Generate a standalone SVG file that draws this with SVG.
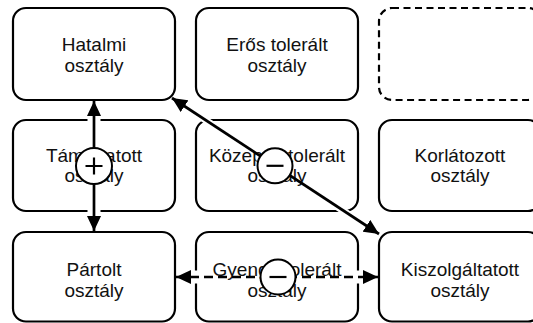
<svg xmlns="http://www.w3.org/2000/svg" width="533" height="323" viewBox="0 0 533 323">
<defs>
<style>
.box{fill:#fff;stroke:#000;stroke-width:2.2}
.ghost{fill:#fff;stroke:#000;stroke-width:2.2;stroke-dasharray:7 4.5}
.lbl{font-family:"Liberation Sans",Arial,sans-serif;font-size:19px;fill:#111;text-anchor:middle}
.halo{stroke:#fff;stroke-width:13;fill:none}
.halo-d{stroke:#fff;stroke-width:7;fill:none}
.edge{stroke:#000;stroke-width:2.7;fill:none;marker-start:url(#ah);marker-end:url(#ah)}
.dash{stroke-dasharray:9 5}
.sign{fill:#fff;stroke:#000;stroke-width:2}
.sym{stroke:#000;stroke-width:2.2;fill:none}
</style>
<marker id="ah" markerUnits="userSpaceOnUse" markerWidth="16" markerHeight="14" refX="15" refY="7" orient="auto-start-reverse" viewBox="0 0 16 14">
<path d="M0,0 L15,7 L0,14 z" fill="#000"/>
</marker>
</defs>
<rect width="533" height="323" fill="#fff"/>

<g id="hatalmi">
<rect class="box" x="13" y="8" width="162" height="92" rx="13"/>
<text class="lbl"><tspan x="94" y="51">Hatalmi</tspan><tspan x="94" y="71.5">osztály</tspan></text>
</g>
<g id="eros-tolerált">
<rect class="box" x="196" y="8" width="162" height="92" rx="13"/>
<text class="lbl"><tspan x="277" y="51">Erős tolerált</tspan><tspan x="277" y="71.5">osztály</tspan></text>
</g>
<g id="empty">
<rect class="ghost" x="379" y="8" width="162" height="92" rx="13"/>
</g>

<g id="tamogatott">
<rect class="box" x="13" y="120" width="162" height="91" rx="13"/>
<text class="lbl"><tspan x="94" y="161.5">Támogatott</tspan><tspan x="94" y="182">osztály</tspan></text>
</g>
<g id="kozepes-tolerált">
<rect class="box" x="196" y="120" width="162" height="91" rx="13"/>
<text class="lbl"><tspan x="277" y="161.5">Közepes tolerált</tspan><tspan x="277" y="182">osztály</tspan></text>
</g>
<g id="korlatozott">
<rect class="box" x="379" y="120" width="162" height="91" rx="13"/>
<text class="lbl"><tspan x="460" y="161.5">Korlátozott</tspan><tspan x="460" y="182">osztály</tspan></text>
</g>

<g id="partolt">
<rect class="box" x="13" y="232" width="162" height="89.5" rx="13"/>
<text class="lbl"><tspan x="94" y="276">Pártolt</tspan><tspan x="94" y="296.5">osztály</tspan></text>
</g>
<g id="gyenge-tolerált">
<rect class="box" x="196" y="232" width="162" height="89.5" rx="13"/>
<text class="lbl"><tspan x="277" y="276">Gyenge tolerált</tspan><tspan x="277" y="296.5">osztály</tspan></text>
</g>
<g id="kiszolgaltatott">
<rect class="box" x="379" y="232" width="162" height="89.5" rx="13"/>
<text class="lbl"><tspan x="460" y="276">Kiszolgáltatott</tspan><tspan x="460" y="296.5">osztály</tspan></text>
</g>

<g id="connectors">
<path class="halo" d="M94,113 V127 M94,204 V218 M189,277 H203 M351,277 H365"/>
<path class="halo-d" d="M198.7,115.6 L212.1,124.4 M336.8,206.6 L350.2,215.4"/>
<path class="edge" d="M94,101 L94,231"/>
<path class="edge" d="M172,98 L379,234"/>
<path class="edge dash" d="M176,277 L378,277"/>
</g>

<g id="sign-plus">
<circle class="sign" cx="94" cy="166" r="18"/>
<path class="sym" d="M85.5,166 H102.5 M94,157.5 V174.5"/>
</g>
<g id="sign-minus-middle">
<circle class="sign" cx="275" cy="165.8" r="17.5"/>
<path class="sym" d="M266.5,165.8 H283.5"/>
</g>
<g id="sign-minus-bottom">
<circle class="sign" cx="278" cy="277" r="17.5"/>
<path class="sym" d="M269.5,277 H286.5"/>
</g>
</svg>
